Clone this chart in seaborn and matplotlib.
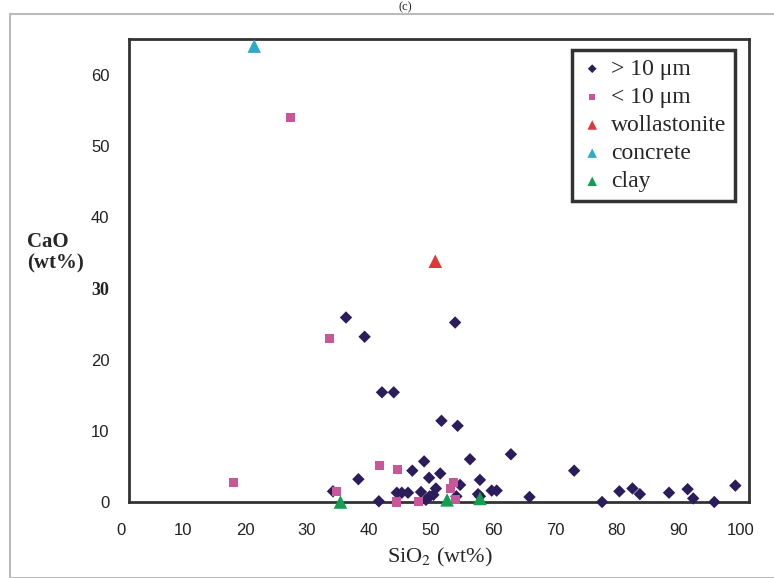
import matplotlib
matplotlib.use('Agg')
import matplotlib.pyplot as plt
import matplotlib.transforms as mtransforms
from matplotlib.patches import Rectangle
import seaborn as sns
import pandas as pd

# data (SiO2 wt%, CaO wt%)
big_sio2 = [32.9, 35.0, 37.0, 38.0, 40.3, 40.8, 42.7, 43.2, 44.0, 45.0, 45.7, 47.1,
            47.6, 47.9, 48.4, 48.5, 49.1, 49.5, 50.2, 50.4, 52.6, 52.8, 53.0, 53.4,
            55.0, 56.3, 56.6, 56.6, 58.5, 59.3, 61.6, 64.6, 71.8, 76.3, 79.1, 81.2,
            82.4, 87.1, 90.1, 91.0, 94.4, 97.8]
big_cao = [1.5, 25.9, 3.2, 23.2, 0.1, 15.4, 15.4, 1.3, 1.3, 1.3, 4.4, 1.4,
           5.7, 0.3, 3.4, 0.8, 1.0, 1.9, 4.0, 11.4, 25.2, 0.8, 10.7, 2.4,
           6.0, 1.1, 3.1, 0.8, 1.6, 1.6, 6.7, 0.7, 4.4, 0.0, 1.5, 1.9,
           1.1, 1.3, 1.8, 0.5, 0.0, 2.3]

small_sio2 = [16.8, 26.0, 32.3, 33.4, 40.4, 43.3, 43.1, 46.7, 51.8, 52.3, 52.6]
small_cao = [2.7, 54.0, 23.0, 1.5, 5.1, 4.5, 0.0, 0.1, 1.9, 2.8, 0.3]

woll_sio2 = [49.4]
woll_cao = [33.8]

concrete_sio2 = [20.2]
concrete_cao = [64.0]

clay_sio2 = [34.1, 51.3, 56.6]
clay_cao = [0.0, 0.3, 0.5]

groups = ['> 10 \u03bcm', '< 10 \u03bcm', 'wollastonite', 'concrete', 'clay']
colors = ['#2b1d5c', '#c8579a', '#e0363a', '#2eaac8', '#12a050']
markers = ['D', 's', '^', '^', '^']
sizes = [40, 42, 95, 95, 95]

frames = []
for name, xs, ys in zip(groups,
                        [big_sio2, small_sio2, woll_sio2, concrete_sio2, clay_sio2],
                        [big_cao, small_cao, woll_cao, concrete_cao, clay_cao]):
    frames.append(pd.DataFrame({'SiO2': xs, 'CaO': ys, 'group': name}))
df = pd.concat(frames, ignore_index=True)

sns.set_style('white')
plt.rcParams['mathtext.fontset'] = 'stix'

fig = plt.figure(figsize=(7.74, 5.78), dpi=100)
ax = fig.add_axes([129 / 774, 1 - 502 / 578, 620 / 774, 463 / 578])

for name, col, mk, sz in zip(groups, colors, markers, sizes):
    sns.scatterplot(data=df[df.group == name], x='SiO2', y='CaO', color=col,
                    marker=mk, s=sz, edgecolor='none', label=name, ax=ax,
                    clip_on=False, zorder=3)

ax.set_xlim(0, 100)
ax.set_ylim(0, 65)
ax.set_xticks(range(0, 101, 10))
ax.set_yticks(range(0, 61, 10))
ax.set_xlabel('')
ax.set_ylabel('')
for sp in ax.spines.values():
    sp.set_color('#333333')
    sp.set_linewidth(2)
ax.tick_params(axis='both', direction='out', length=4, width=1, color='#555555',
               labelsize=12, labelcolor='#222222')
ax.tick_params(axis='x', pad=11)
ax.tick_params(axis='y', pad=10)
for lab in ax.get_xticklabels() + ax.get_yticklabels():
    lab.set_family('Liberation Sans')

# x labels in the reference sit a little left of their ticks
shift = mtransforms.ScaledTranslation(-8 / 100, 0, fig.dpi_scale_trans)
for lab in ax.get_xticklabels():
    lab.set_transform(lab.get_transform() + shift)

# the "30" label is printed in bold serif in the reference
for lab in ax.get_yticklabels():
    if lab.get_text() == '30':
        lab.set_family('Liberation Serif')
        lab.set_fontweight('bold')
        lab.set_fontsize(13)

leg = ax.legend(loc='upper right', bbox_to_anchor=(0.977, 0.976), frameon=True,
                fancybox=False, prop={'family': 'Liberation Serif', 'size': 17},
                handletextpad=0.3, labelspacing=0.28, borderpad=0.35,
                borderaxespad=0, handlelength=1.0, markerscale=0.7)
leg.get_frame().set_edgecolor('black')
leg.get_frame().set_linewidth(2.5)

fig.text(27 / 774, 1 - 253 / 578, 'CaO\n(wt%)', ha='left', va='center',
         family='Liberation Serif', fontweight='bold', fontsize=15,
         linespacing=1.1)
fig.text(440 / 774, 1 - 557 / 578, r'SiO$_\mathrm{2}$ (wt%)', ha='center',
         va='center', family='Liberation Serif', fontsize=16)
fig.text(405 / 774, 1 - 1 / 578, '(c)', ha='center', va='top',
         family='Liberation Serif', fontsize=9)

# grey frame of the original figure
fig.patches.append(Rectangle((10 / 774, 0), 1, 1 - 14 / 578, transform=fig.transFigure,
                             fill=False, edgecolor='#bbbbbb', linewidth=1.5))

fig.savefig('out.png', dpi=100)
